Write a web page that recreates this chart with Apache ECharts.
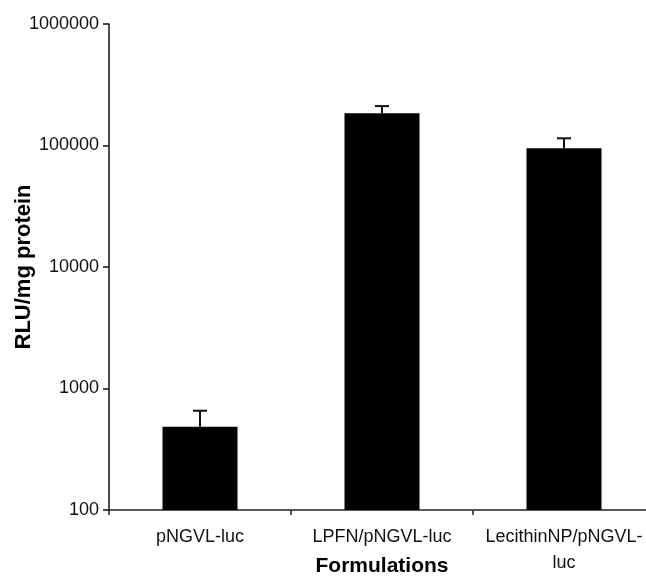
<!DOCTYPE html>
<html>
<head>
<meta charset="utf-8">
<script src="https://cdn.jsdelivr.net/npm/echarts@6/dist/echarts.min.js"></script>
<style>html,body{margin:0;padding:0;background:#fff;}#c{width:646px;height:586px;}</style>
</head>
<body>
<div id="c"></div>
<script>
const categories = ["pNGVL-luc", "LPFN/pNGVL-luc", "LecithinNP/pNGVL-luc"];
const tickLabels = ["pNGVL-luc", "LPFN/pNGVL-luc", "LecithinNP/pNGVL-\nluc"];
const means = [485, 184000, 94800];
const upperErr = [656, 211000, 114600];
const yTicks = [100, 1000, 10000, 100000, 1000000];

const chart = echarts.init(document.getElementById('c'), null, {renderer: 'canvas'});
const FONT = 'Liberation Sans, Arial, sans-serif';
chart.setOption({
  animation: false,
  backgroundColor: '#fff',
  grid: {left: 109, top: 24, width: 546, bottom: 76, containLabel: false, outerBoundsMode: 'none'},
  xAxis: {
    type: 'category',
    data: categories,
    name: 'Formulations',
    nameLocation: 'middle',
    nameGap: 46,
    nameMoveOverlap: false,
    nameTextStyle: {fontFamily: FONT, fontWeight: 'bold', fontSize: 21, color: '#000'},
    axisLine: {lineStyle: {color: '#222', width: 1.5}},
    axisTick: {show: true, length: 5, lineStyle: {color: '#222', width: 1.5}},
    axisLabel: {
      interval: 0, hideOverlap: false,
      margin: 14, fontFamily: FONT, fontSize: 18, color: '#111', lineHeight: 26,
      formatter: (v, i) => tickLabels[i]
    }
  },
  yAxis: {
    type: 'log',
    logBase: 10,
    min: yTicks[0],
    max: yTicks[yTicks.length - 1],
    name: 'RLU/mg protein',
    nameLocation: 'middle',
    nameGap: 74,
    nameMoveOverlap: false,
    nameTextStyle: {fontFamily: FONT, fontWeight: 'bold', fontSize: 22, color: '#000'},
    splitLine: {show: false},
    minorTick: {show: false},
    axisLine: {show: true, lineStyle: {color: '#111', width: 1.5}},
    axisTick: {show: true, length: 6, lineStyle: {color: '#111', width: 1.5}},
    axisLabel: {
      margin: 10, fontFamily: FONT, fontSize: 18, color: '#111',
      formatter: v => String(Math.round(v))
    }
  },
  series: [
    {
      type: 'bar',
      data: means,
      barWidth: 75,
      itemStyle: {color: '#000'},
      z: 2
    },
    {
      type: 'custom',
      data: means.map((m, i) => [i, m, upperErr[i]]),
      renderItem: (params, api) => {
        const top = api.coord([api.value(0), api.value(1)]);
        const cap = api.coord([api.value(0), api.value(2)]);
        const hw = 7;
        const style = {stroke: '#111', lineWidth: 2};
        return {
          type: 'group',
          children: [
            {type: 'line', shape: {x1: top[0], y1: top[1], x2: cap[0], y2: cap[1]}, style},
            {type: 'line', shape: {x1: cap[0] - hw, y1: cap[1], x2: cap[0] + hw, y2: cap[1]}, style}
          ]
        };
      },
      z: 3
    }
  ]
});
</script>
</body>
</html>
